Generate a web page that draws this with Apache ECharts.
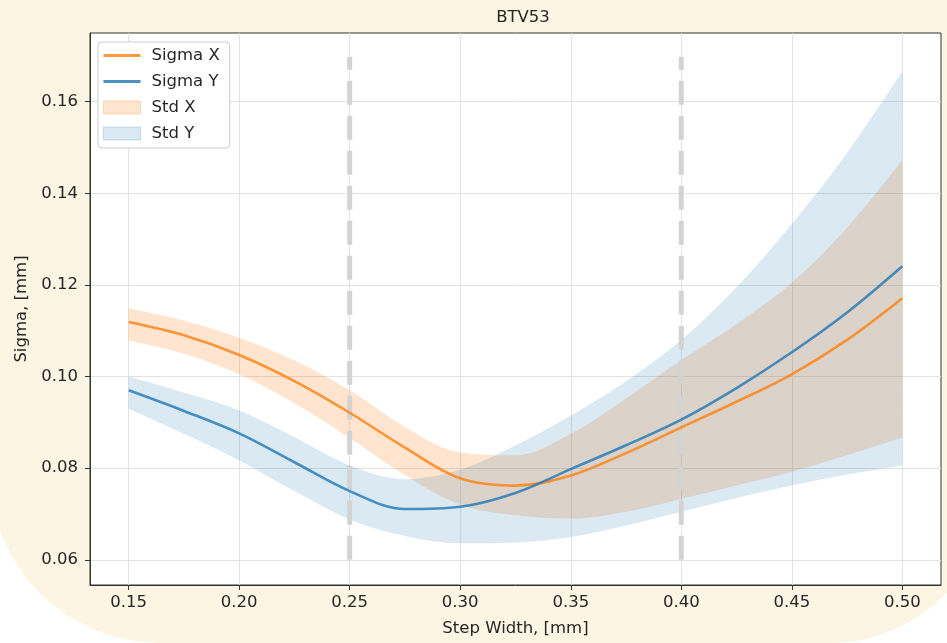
<!DOCTYPE html>
<html>
<head>
<meta charset="utf-8">
<script src="https://cdn.jsdelivr.net/npm/echarts@6/dist/echarts.min.js"></script>
<style>
html, body { margin: 0; padding: 0; background: #fff; }
#chart { width: 947px; height: 643px; }
</style>
</head>
<body>
<div id="chart"></div>
<script>
// values
const stepWidth = [0.15, 0.175, 0.2, 0.225, 0.25, 0.275, 0.3, 0.325, 0.35, 0.375, 0.4, 0.425, 0.45, 0.475, 0.5];
const sigmaX = [0.1119, 0.1090, 0.1047, 0.0990, 0.0921, 0.0845, 0.0778, 0.0762, 0.0784, 0.0833, 0.0889, 0.0945, 0.1005, 0.1080, 0.1171];
const sigmaY = [0.0970, 0.0925, 0.0876, 0.0813, 0.0750, 0.0711, 0.0716, 0.0746, 0.0798, 0.0850, 0.0906, 0.0975, 0.1053, 0.1140, 0.1241];
const stdXHigh = [0.1149, 0.1122, 0.1085, 0.1035, 0.0970, 0.0890, 0.0834, 0.0828, 0.0875, 0.0952, 0.1036, 0.1115, 0.1205, 0.1325, 0.1473];
const stdXLow = [0.1079, 0.1050, 0.1005, 0.0942, 0.0866, 0.0785, 0.0720, 0.0697, 0.0690, 0.0705, 0.0733, 0.0762, 0.0792, 0.0828, 0.0867];
const stdYHigh = [0.1000, 0.0965, 0.0926, 0.0868, 0.0806, 0.0776, 0.0797, 0.0850, 0.0915, 0.0990, 0.1080, 0.1195, 0.1333, 0.1488, 0.1666];
const stdYLow = [0.0930, 0.0875, 0.0817, 0.0750, 0.0688, 0.0652, 0.0636, 0.0638, 0.0650, 0.0675, 0.0705, 0.0735, 0.0762, 0.0786, 0.0806];

const xTicks = [0.15, 0.2, 0.25, 0.3, 0.35, 0.4, 0.45, 0.5];
const yTicks = [0.06, 0.08, 0.1, 0.12, 0.14, 0.16];
const markerSteps = [0.25, 0.4];
const markerRange = [0.06, 0.1698];

const chart = echarts.init(document.getElementById('chart'));

// rows are [value, step] so that stacking happens on the y value
const rows = (ys) => stepWidth.map((x, i) => [ys[i], x]);
const diffRows = (hi, lo) => stepWidth.map((x, i) => [+(hi[i] - lo[i]).toFixed(5), x]);
const enc = { x: 1, y: 0 };

const font = 'DejaVu Sans';
const ink = '#262626';
const fs = 16.5;
const smooth = 0.35;

function band(name, stack, lo, hi, fill) {
    return [
        {
            name: name + ' base', type: 'line', stack: stack, data: rows(lo), encode: enc,
            smooth: smooth, symbol: 'none', silent: true,
            lineStyle: { opacity: 0 }, z: 1
        },
        {
            name: name, type: 'line', stack: stack, data: diffRows(hi, lo), encode: enc,
            smooth: smooth, symbol: 'none', silent: true,
            itemStyle: { color: fill },
            lineStyle: { opacity: 0 },
            areaStyle: { color: fill, opacity: 1 }, z: 1
        }
    ];
}

const markerSeries = markerSteps.map(x => ({
    type: 'line', data: markerRange.map(y => [y, x]), encode: enc, symbol: 'none', silent: true,
    lineStyle: { color: '#d3d3d3', width: 5, type: [24, 11], cap: 'butt' }, z: 2
}));

const lineIcon = 'path://M0,0H37V3H0Z';

const option = {
    backgroundColor: 'transparent',
    animation: false,
    textStyle: { fontFamily: font },
    graphic: [{
        type: 'rect', z: -10, silent: true,
        shape: { x: -10, y: -60, width: 1000, height: 703, r: [0, 0, 160, 170] },
        style: { fill: '#fdf5e4' }
    }],
    title: {
        text: 'BTV53', left: 518, top: 4, textAlign: 'center',
        textStyle: { fontFamily: font, fontSize: fs, fontWeight: 'normal', color: ink }
    },
    legend: {
        orient: 'vertical', left: 98, top: 42,
        padding: [5, 10, 6, 5],
        itemWidth: 37, itemHeight: 13, itemGap: 9,
        backgroundColor: '#fff', borderColor: '#cccccc', borderWidth: 1, borderRadius: 4,
        textStyle: { fontFamily: font, fontSize: fs, color: ink, padding: [0, 0, 0, 6] },
        data: [
            { name: 'Sigma X', icon: lineIcon, itemStyle: { color: 'rgba(255,127,14,0.8)' } },
            { name: 'Sigma Y', icon: lineIcon, itemStyle: { color: 'rgba(31,119,180,0.8)' } },
            { name: 'Std X', icon: 'rect', itemStyle: { color: 'rgba(255,127,14,0.2)', borderColor: 'rgba(255,127,14,0.25)', borderWidth: 1 } },
            { name: 'Std Y', icon: 'rect', itemStyle: { color: 'rgba(31,119,180,0.16)', borderColor: 'rgba(31,119,180,0.22)', borderWidth: 1 } }
        ]
    },
    grid: {
        left: 90, right: 6, top: 33, bottom: 58,
        show: true, backgroundColor: '#fff', borderColor: '#333', borderWidth: 1
    },
    xAxis: {
        type: 'value', min: 0.1325, max: 0.5175,
        name: 'Step Width, [mm]', nameLocation: 'middle', nameGap: 35,
        nameTextStyle: { fontFamily: font, fontSize: fs, color: ink },
        axisLine: { show: true, onZero: false, lineStyle: { color: '#333' } },
        axisTick: { show: true, length: 5, customValues: xTicks, lineStyle: { color: '#333' } },
        axisLabel: {
            customValues: xTicks, formatter: v => v.toFixed(2),
            fontFamily: font, fontSize: fs, color: ink, margin: 9
        },
        splitLine: { show: true, lineStyle: { color: '#e2e2e2' } }
    },
    yAxis: {
        type: 'value', min: 0.0545, max: 0.175,
        name: 'Sigma, [mm]', nameLocation: 'middle', nameGap: 60,
        nameTextStyle: { fontFamily: font, fontSize: fs, color: ink },
        axisLine: { show: true, onZero: false, lineStyle: { color: '#333' } },
        axisTick: { show: true, length: 5, customValues: yTicks, lineStyle: { color: '#333' } },
        axisLabel: {
            customValues: yTicks, formatter: v => v.toFixed(2),
            fontFamily: font, fontSize: fs, color: ink, margin: 12
        },
        splitLine: { show: true, lineStyle: { color: '#e2e2e2' } }
    },
    series: [
        ...band('Std X', 'sx', stdXLow, stdXHigh, 'rgba(255,127,14,0.2)'),
        ...band('Std Y', 'sy', stdYLow, stdYHigh, 'rgba(31,119,180,0.16)'),
        ...markerSeries,
        {
            name: 'Sigma X', type: 'line', data: rows(sigmaX), encode: enc, smooth: smooth, symbol: 'none',
            itemStyle: { color: 'rgba(255,127,14,0.8)' },
            lineStyle: { color: 'rgba(255,127,14,0.8)', width: 2.6 }, z: 3
        },
        {
            name: 'Sigma Y', type: 'line', data: rows(sigmaY), encode: enc, smooth: smooth, symbol: 'none',
            itemStyle: { color: 'rgba(31,119,180,0.8)' },
            lineStyle: { color: 'rgba(31,119,180,0.8)', width: 2.6 }, z: 3
        }
    ]
};

chart.setOption(option);
</script>
</body>
</html>
